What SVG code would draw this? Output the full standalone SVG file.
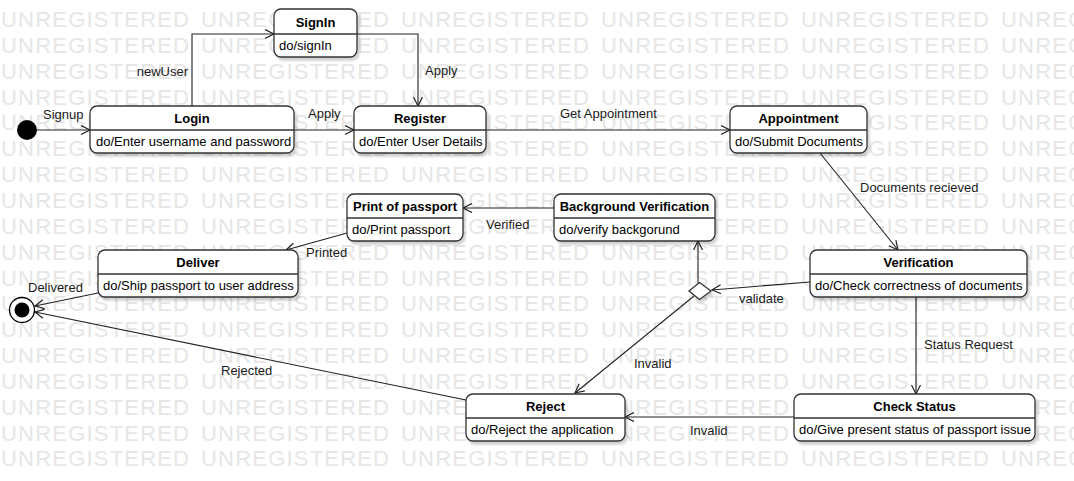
<svg xmlns="http://www.w3.org/2000/svg" xmlns:xlink="http://www.w3.org/1999/xlink" width="1074" height="481" viewBox="0 0 1074 481">
<style>
.wm{font-family:"Liberation Sans",Arial,sans-serif;font-size:22px;letter-spacing:1.2px;fill:#e6e6e6}
.box{fill:#fff;stroke:#333;stroke-width:1.3}
.div{stroke:#333;stroke-width:1.3;fill:none}
.title{font-family:"Liberation Sans",Arial,sans-serif;font-size:13px;font-weight:bold;fill:#000;text-anchor:middle}
.body{font-family:"Liberation Sans",Arial,sans-serif;font-size:13px;fill:#000}
.lbl{font-family:"Liberation Sans",Arial,sans-serif;font-size:13px;fill:#1a1a1a}
.edge{fill:none;stroke:#222;stroke-width:1.1;marker-end:url(#arr)}
</style>
<defs>
<marker id="arr" markerUnits="userSpaceOnUse" markerWidth="12" markerHeight="12" refX="9" refY="5" orient="auto">
<path d="M0,0.5 L9,5 L0,9.5" fill="none" stroke="#222" stroke-width="1.2"/>
</marker>
<filter id="sh" x="-10%" y="-10%" width="130%" height="140%">
<feDropShadow dx="2" dy="3" stdDeviation="1.2" flood-color="#000" flood-opacity="0.18"/>
</filter>
<g id="wmrow">
<text class="wm" x="1" y="0">UNREGISTERED</text>
<text class="wm" x="201" y="0">UNREGISTERED</text>
<text class="wm" x="401" y="0">UNREGISTERED</text>
<text class="wm" x="601" y="0">UNREGISTERED</text>
<text class="wm" x="801" y="0">UNREGISTERED</text>
<text class="wm" x="1001" y="0">UNREGISTERED</text>
</g>
</defs>
<rect width="1074" height="481" fill="#fff"/>
<g id="watermark">
<use xlink:href="#wmrow" y="27"/>
<use xlink:href="#wmrow" y="52.85"/>
<use xlink:href="#wmrow" y="78.7"/>
<use xlink:href="#wmrow" y="104.55"/>
<use xlink:href="#wmrow" y="130.4"/>
<use xlink:href="#wmrow" y="156.25"/>
<use xlink:href="#wmrow" y="182.1"/>
<use xlink:href="#wmrow" y="207.95"/>
<use xlink:href="#wmrow" y="233.8"/>
<use xlink:href="#wmrow" y="259.65"/>
<use xlink:href="#wmrow" y="285.5"/>
<use xlink:href="#wmrow" y="311.35"/>
<use xlink:href="#wmrow" y="337.2"/>
<use xlink:href="#wmrow" y="363.05"/>
<use xlink:href="#wmrow" y="388.9"/>
<use xlink:href="#wmrow" y="414.75"/>
<use xlink:href="#wmrow" y="440.6"/>
<use xlink:href="#wmrow" y="466.45"/>
</g>
<g id="connectors">
<path class="edge" d="M37,130 L90,130"/>
<path class="edge" d="M192,106 L192,34 L274,34"/>
<path class="edge" d="M357,34 L418,34 L418,106"/>
<path class="edge" d="M294,130 L354,130"/>
<path class="edge" d="M486,130 L730,130"/>
<path class="edge" d="M820,153 L898,250"/>
<path class="edge" d="M810,282 L712,290"/>
<path class="edge" d="M698,283 L698,241"/>
<path class="edge" d="M694,296 L575,393"/>
<path class="edge" d="M916,297 L916,394"/>
<path class="edge" d="M794,417 L625,417"/>
<path class="edge" d="M466,400 L35,312"/>
<path class="edge" d="M98,293 L35,306"/>
<path class="edge" d="M554,208 L463,208"/>
<path class="edge" d="M347,233 L286,250"/>
<text class="lbl" x="43" y="119">Signup</text>
<text class="lbl" x="188" y="76" text-anchor="end">newUser</text>
<text class="lbl" x="425" y="75">Apply</text>
<text class="lbl" x="308" y="118">Apply</text>
<text class="lbl" x="560" y="118">Get Appointment</text>
<text class="lbl" x="860" y="192">Documents recieved</text>
<text class="lbl" x="486" y="229">Verified</text>
<text class="lbl" x="306" y="257">Printed</text>
<text class="lbl" x="28" y="292">Delivered</text>
<text class="lbl" x="739" y="303">validate</text>
<text class="lbl" x="924" y="349">Status Request</text>
<text class="lbl" x="634" y="368">Invalid</text>
<text class="lbl" x="690" y="435">Invalid</text>
<text class="lbl" x="221" y="375">Rejected</text>
</g>
<g id="initial">
<circle cx="27" cy="130" r="10" fill="#000"/>
</g>
<g id="final">
<circle cx="22" cy="310" r="12.5" fill="#fff" stroke="#000" stroke-width="1.3"/>
<circle cx="22" cy="310" r="7.5" fill="#000"/>
</g>
<g id="signin">
<rect class="box" x="274" y="9" width="83" height="48" rx="7" filter="url(#sh)"/>
<line class="div" x1="274" y1="34" x2="357" y2="34"/>
<text class="title" x="315.5" y="26.5">SignIn</text>
<text class="body" x="279" y="50">do/signIn</text>
</g>
<g id="login">
<rect class="box" x="90" y="106" width="204" height="47" rx="7" filter="url(#sh)"/>
<line class="div" x1="90" y1="130" x2="294" y2="130"/>
<text class="title" x="192" y="122.5">Login</text>
<text class="body" x="96" y="146">do/Enter username and password</text>
</g>
<g id="register">
<rect class="box" x="354" y="106" width="132" height="47" rx="7" filter="url(#sh)"/>
<line class="div" x1="354" y1="130" x2="486" y2="130"/>
<text class="title" x="420" y="122.5">Register</text>
<text class="body" x="359" y="146">do/Enter User Details</text>
</g>
<g id="appointment">
<rect class="box" x="730" y="106" width="137" height="47" rx="7" filter="url(#sh)"/>
<line class="div" x1="730" y1="130" x2="867" y2="130"/>
<text class="title" x="798.5" y="122.5">Appointment</text>
<text class="body" x="735" y="146">do/Submit Documents</text>
</g>
<g id="print">
<rect class="box" x="347" y="194" width="116" height="47" rx="7" filter="url(#sh)"/>
<line class="div" x1="347" y1="218" x2="463" y2="218"/>
<text class="title" x="405" y="210.5">Print of passport</text>
<text class="body" x="352" y="234">do/Print passport</text>
</g>
<g id="background">
<rect class="box" x="554" y="194" width="161" height="47" rx="7" filter="url(#sh)"/>
<line class="div" x1="554" y1="218" x2="715" y2="218"/>
<text class="title" x="634.5" y="210.5">Background Verification</text>
<text class="body" x="559" y="234">do/verify backgorund</text>
</g>
<g id="deliver">
<rect class="box" x="98" y="250" width="200" height="47" rx="7" filter="url(#sh)"/>
<line class="div" x1="98" y1="274" x2="298" y2="274"/>
<text class="title" x="198" y="266.5">Deliver</text>
<text class="body" x="103" y="290">do/Ship passport to user address</text>
</g>
<g id="verification">
<rect class="box" x="810" y="250" width="217" height="47" rx="7" filter="url(#sh)"/>
<line class="div" x1="810" y1="274" x2="1027" y2="274"/>
<text class="title" x="918.5" y="266.5">Verification</text>
<text class="body" x="815" y="290">do/Check correctness of documents</text>
</g>
<g id="decision">
<polygon class="box" points="689,291 699.5,282.5 711,291 699.5,299.5" filter="url(#sh)"/>
</g>
<g id="reject">
<rect class="box" x="466" y="394" width="159" height="47" rx="7" filter="url(#sh)"/>
<line class="div" x1="466" y1="418" x2="625" y2="418"/>
<text class="title" x="545.5" y="410.5">Reject</text>
<text class="body" x="471" y="434">do/Reject the application</text>
</g>
<g id="checkstatus">
<rect class="box" x="794" y="394" width="241" height="47" rx="7" filter="url(#sh)"/>
<line class="div" x1="794" y1="418" x2="1035" y2="418"/>
<text class="title" x="914.5" y="410.5">Check Status</text>
<text class="body" x="799" y="434">do/Give present status of passport issue</text>
</g>
</svg>
